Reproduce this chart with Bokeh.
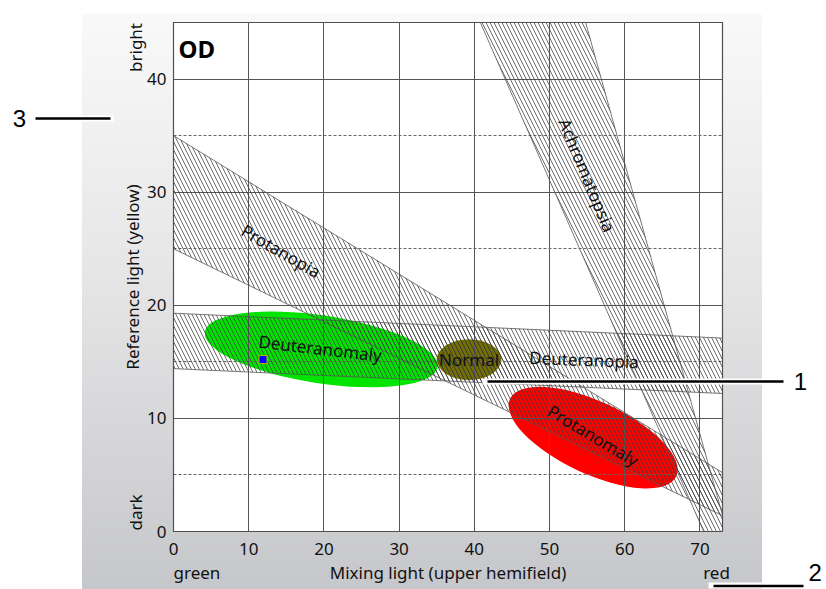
from bokeh.plotting import figure
from bokeh.models import ColumnDataSource, FixedTicker, Label, Range1d
from bokeh.core.properties import value
from bokeh.embed import file_html
from bokeh.resources import INLINE

# ---------------- data ----------------
x_ticks = [0, 10, 20, 30, 40, 50, 60, 70]
y_ticks = [0, 10, 20, 30, 40]
y_minor = [5, 15, 25, 35]

band_names = ["Protanopia", "Deuteranopia", "Achromatopsia"]
band_xs = [[0, 73, 73, 0], [0, 73, 73, 0], [40.8, 54.8, 73.6, 70.5]]
band_ys = [[35, 5.2, 1.4, 25], [19.3, 17.1, 12.2, 14.4], [45, 45, 0, 0]]

region_names = ["Deuteranomaly", "Normal", "Protanomaly"]
region_x = [19.65, 39.3, 55.8]
region_y = [16.1, 15.2, 8.3]
region_w = [31.3, 8.6, 24.4]
region_h = [6.0, 3.6, 6.4]
region_angle = [-0.15, 0.0, -0.436]
region_color = ["#00e400", "#726e00", "#ff0000"]

label_text = ["Protanopia", "Deuteranomaly", "Normal", "Deuteranopia", "Protanomaly", "Achromatopsia"]
label_x = [14.3, 19.5, 39.3, 54.6, 55.8, 55.0]
label_y = [24.8, 16.2, 15.2, 15.2, 8.5, 31.5]
label_angle = [-0.524, -0.115, 0.0, -0.04, -0.54, -1.178]

subject_x = [11.9]
subject_y = [15.2]

FONT = "Noto Sans"

# ---------------- main figure ----------------
p = figure(width=826, height=589, x_range=Range1d(0, 73), y_range=Range1d(0, 45),
           output_backend="svg", toolbar_location=None,
           min_border_left=173, min_border_right=104, min_border_top=22, min_border_bottom=58)
p.border_fill_color = None
p.background_fill_color = "white"
p.outline_line_color = "#505050"
p.outline_line_width = 1.2
p.styles = {"background": "linear-gradient(to bottom, #f9f9f9 0%, #e6e6e7 45%, #c6c7ca 100%) 82px 14px / 680px 575px no-repeat, #ffffff"}

p.xaxis.ticker = FixedTicker(ticks=x_ticks)
p.yaxis.ticker = FixedTicker(ticks=y_ticks, minor_ticks=y_minor)
for ax in (p.xaxis[0], p.yaxis[0]):
    ax.major_tick_line_color = None
    ax.minor_tick_line_color = None
    ax.axis_line_color = "#505050"
    ax.major_label_text_font = FONT
    ax.major_label_text_font_size = "17px"
    ax.major_label_text_color = "#111111"
    ax.axis_label_text_font = FONT
    ax.axis_label_text_font_size = "17px"
    ax.axis_label_text_font_style = "normal"
    ax.axis_label_text_color = "#111111"
p.xaxis.axis_label = "Mixing light (upper hemifield)"
p.yaxis.axis_label = "Reference light (yellow)"
p.xaxis.major_label_standoff = 5
p.xaxis.axis_label_standoff = 3
p.yaxis.major_label_standoff = 1
p.yaxis.axis_label_standoff = 0

p.xgrid.ticker = FixedTicker(ticks=x_ticks)
p.ygrid.ticker = FixedTicker(ticks=y_ticks, minor_ticks=y_minor)
p.xgrid.grid_line_color = "#555555"
p.ygrid.grid_line_color = "#555555"
p.ygrid.minor_grid_line_color = "#666666"
p.ygrid.minor_grid_line_dash = "3 2"

reg = ColumnDataSource(dict(x=region_x, y=region_y, w=region_w, h=region_h,
                            a=region_angle, c=region_color, name=region_names))
p.ellipse(x="x", y="y", width="w", height="h", angle="a", source=reg,
          fill_color="c", line_color=None, level="image")

bands = ColumnDataSource(dict(xs=band_xs, ys=band_ys, name=band_names))
p.patches(xs="xs", ys="ys", source=bands, fill_color=None, fill_alpha=0,
          line_color="#555555", line_width=0.8,
          hatch_pattern="\\", hatch_scale=8, hatch_color="#3c3c3c", hatch_weight=0.75)

p.scatter(subject_x, subject_y, marker="square", size=8, fill_color="#0000ff",
          line_color="#c8b400", line_width=1)

lab = ColumnDataSource(dict(x=label_x, y=label_y, t=label_text, a=label_angle))
p.text(x="x", y="y", text="t", angle="a", source=lab, text_font=value(FONT),
       text_font_size="17px", text_align="center", text_baseline="middle",
       text_color="#111111")

p.add_layout(Label(x=0.66, y=42.7, text="OD", text_font=FONT, text_font_size="24px",
                   text_font_style="bold", text_baseline="middle", text_color="#000000"))

# ---------------- overlay (page annotations, pixel coordinates) ----------------
ov = figure(width=826, height=589, x_range=Range1d(0, 826), y_range=Range1d(589, 0),
            output_backend="svg", toolbar_location=None, min_border=0,
            x_axis_type=None, y_axis_type=None)
ov.border_fill_color = None
ov.background_fill_color = None
ov.outline_line_color = None
ov.grid.visible = False
ov.styles = {"position": "absolute", "left": "0px", "top": "0px", "pointer-events": "none"}

# axis end words
ov.text(x=[173], y=[572], text=["green"], text_font=value(FONT), text_font_size="17px",
        text_align="left", text_baseline="middle", text_color="#111111")
ov.text(x=[716], y=[572], text=["red"], text_font=value(FONT), text_font_size="17px",
        text_align="center", text_baseline="middle", text_color="#111111")
ov.text(x=[135, 135], y=[47, 512], text=["bright", "dark"], angle=1.5708,
        text_font=value(FONT), text_font_size="17px",
        text_align="center", text_baseline="middle", text_color="#111111")

# callout lines with white halo
ov.segment(x0=[482, 80, 708], y0=[381, 118, 585], x1=[785, 113, 762], y1=[381, 118, 585],
           line_color="white", line_width=6)
ov.segment(x0=[487, 35, 713], y0=[381, 118, 585.5], x1=[783, 110, 803], y1=[381, 118, 585.5],
           line_color="black", line_width=2.4)
ov.text(x=[800, 19], y=[381, 118], text=["1", "3"], text_font=value("Liberation Sans"),
        text_font_size="24px", text_align="center", text_baseline="middle", text_color="#000000")
ov.text(x=[808], y=[572], text=["2"], text_font=value("Liberation Sans"),
        text_font_size="24px", text_align="left", text_baseline="middle", text_color="#000000")

roots = [p, ov]
open("out.html", "w").write(file_html(roots, INLINE))
